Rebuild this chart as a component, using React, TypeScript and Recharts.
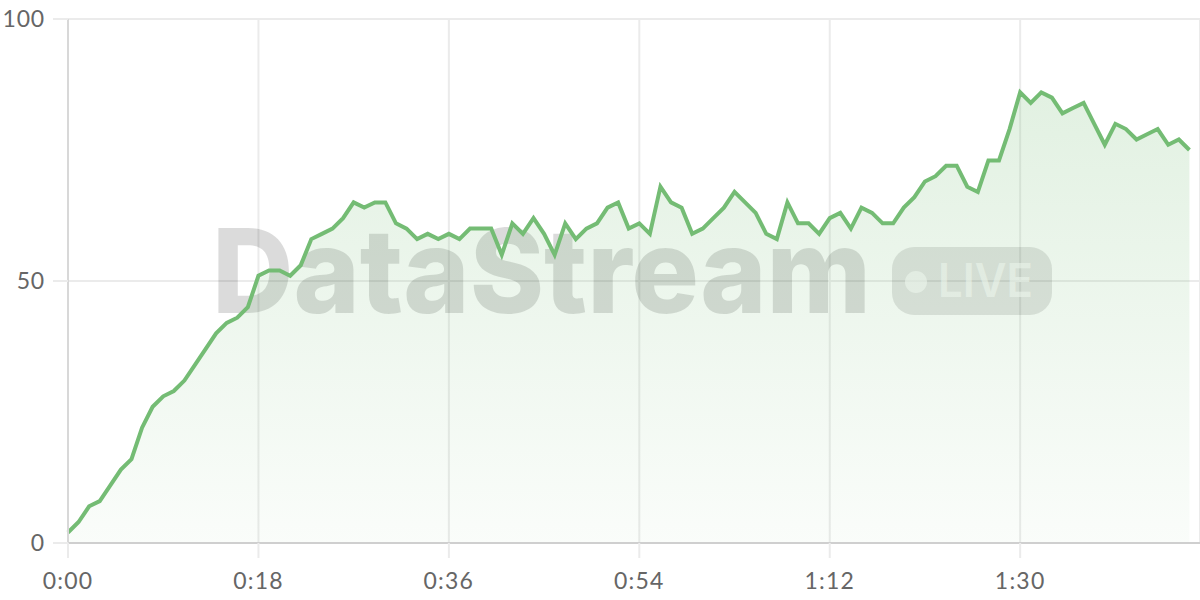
import React from 'react';
import { AreaChart, Area, XAxis, YAxis, CartesianGrid, Customized } from 'recharts';

// one reading per second, 0:00 .. 1:46
const seconds: number[] = Array.from({ length: 107 }, (_, i) => i);
const values: number[] = [
  2, 4, 7, 8, 11, 14, 16, 22, 26, 28,
  29, 31, 34, 37, 40, 42, 43, 45, 51, 52,
  52, 51, 53, 58, 59, 60, 62, 65, 64, 65,
  65, 61, 60, 58, 59, 58, 59, 58, 60, 60,
  60, 55, 61, 59, 62, 59, 55, 61, 58, 60,
  61, 64, 65, 60, 61, 59, 68, 65, 64, 59,
  60, 62, 64, 67, 65, 63, 59, 58, 65, 61,
  61, 59, 62, 63, 60, 64, 63, 61, 61, 64,
  66, 69, 70, 72, 72, 68, 67, 73, 73, 79,
  86, 84, 86, 85, 82, 83, 84, 80, 76, 80,
  79, 77, 78, 79, 76, 77, 75,
];
const xTicks: number[] = [0, 18, 36, 54, 72, 90];
const yTicks: number[] = [0, 50, 100];

const data = seconds.map((t, i) => ({ t, value: values[i] }));

const GREEN = '#74bc74';
const xTickStyle = { fill: '#666', fontSize: 23, fontFamily: 'Lato, sans-serif', letterSpacing: 1.2 };
const yTickStyle = { fill: '#666', fontSize: 23, fontFamily: 'Lato, sans-serif', letterSpacing: 0.8 };

const fmtTime = (s: number) => `${Math.floor(s / 60)}:${String(s % 60).padStart(2, '0')}`;

const Watermark = () => (
  <g pointerEvents="none" style={{ fontFamily: 'Inter, sans-serif' }}>
    <text x={212} y={313} fontSize={117} fontWeight={800} fill="rgba(0,0,0,0.14)" textLength={659} lengthAdjust="spacingAndGlyphs">
      DataStream
    </text>
    <rect x={892} y={247} width={160} height={68} rx={22} fill="rgba(0,0,0,0.11)" />
    <circle cx={916} cy={282} r={11} fill="rgba(255,255,255,0.6)" />
    <text x={938} y={297} fontSize={47} fontWeight={600} fill="rgba(255,255,255,0.6)" textLength={95} lengthAdjust="spacingAndGlyphs">
      LIVE
    </text>
  </g>
);

export default function App() {
  return (
    <div style={{ position: 'absolute', left: 0, top: 0, width: 1200, height: 600, background: '#fff' }}>
      <AreaChart width={1200} height={600} data={data} margin={{ top: 19, right: 0, left: 0, bottom: 0 }}>
        <defs>
          <linearGradient id="streamFill" x1="0" y1="0" x2="0" y2="1">
            <stop offset="0%" stopColor={GREEN} stopOpacity={0.35} />
            <stop offset="100%" stopColor={GREEN} stopOpacity={0.06} />
          </linearGradient>
        </defs>
        <CartesianGrid stroke="#ebebeb" strokeWidth={2} />
        <XAxis
          dataKey="t"
          type="number"
          domain={[0, 107]}
          ticks={xTicks}
          tickFormatter={fmtTime}
          height={57}
          tick={xTickStyle}
          tickSize={15}
          tickMargin={15}
          tickLine={{ stroke: '#ebebeb', strokeWidth: 2 }}
          axisLine={{ stroke: '#cfcfcf', strokeWidth: 2 }}
        />
        <YAxis
          domain={[0, 100]}
          ticks={yTicks}
          width={68}
          tick={yTickStyle}
          tickSize={15}
          tickMargin={8}
          tickLine={{ stroke: '#ebebeb', strokeWidth: 2 }}
          axisLine={{ stroke: '#d8d8d8', strokeWidth: 2 }}
        />
        <Area type="linear" dataKey="value" stroke="none" fill="url(#streamFill)" isAnimationActive={false} />
        <Customized component={Watermark} />
        <Area
          type="linear"
          dataKey="value"
          stroke={GREEN}
          strokeWidth={4}
          fill="none"
          dot={false}
          activeDot={false}
          isAnimationActive={false}
        />
      </AreaChart>
    </div>
  );
}
